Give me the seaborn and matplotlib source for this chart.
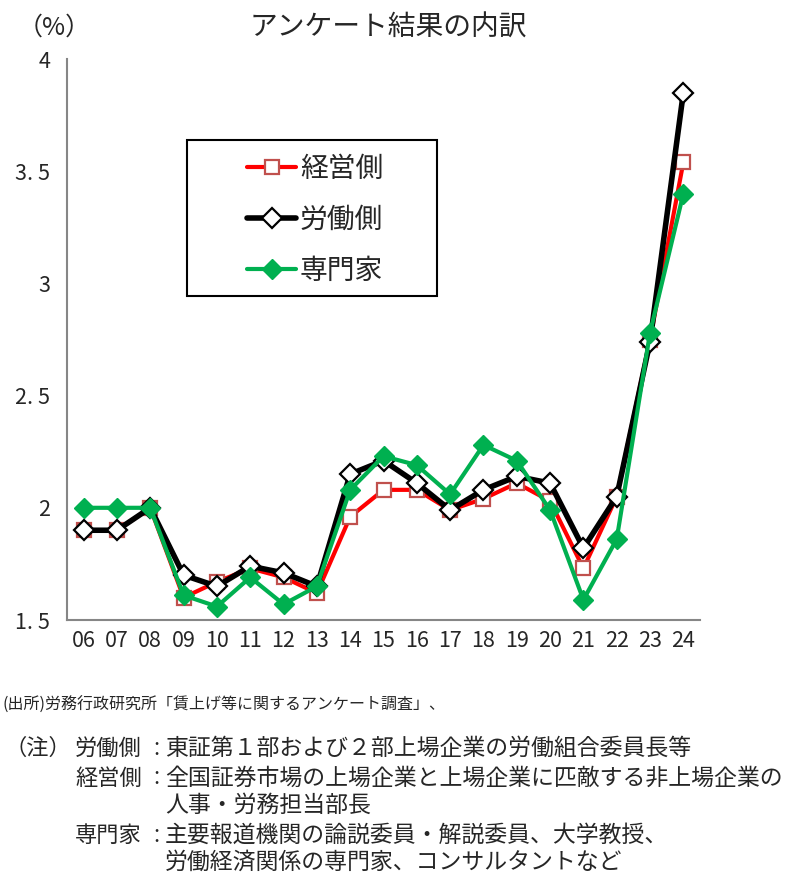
import numpy as np
import pandas as pd
import matplotlib
matplotlib.use("Agg")
import matplotlib.pyplot as plt
from matplotlib.patches import Rectangle
import seaborn as sns

years = ["06", "07", "08", "09", "10", "11", "12", "13", "14", "15",
         "16", "17", "18", "19", "20", "21", "22", "23", "24"]
management = [1.90, 1.90, 2.00, 1.60, 1.67, 1.73, 1.69, 1.62, 1.96, 2.08,
              2.08, 1.99, 2.04, 2.11, 2.03, 1.73, 2.05, 2.75, 3.54]
labor = [1.90, 1.90, 2.00, 1.70, 1.65, 1.74, 1.71, 1.65, 2.15, 2.21,
         2.11, 1.99, 2.08, 2.14, 2.11, 1.82, 2.05, 2.74, 3.85]
experts = [2.00, 2.00, 2.00, 1.61, 1.56, 1.69, 1.57, 1.65, 2.08, 2.23,
           2.19, 2.06, 2.28, 2.21, 1.99, 1.59, 1.86, 2.78, 3.40]
series_names = ["経営側", "労働側", "専門家"]
yticks = [1.5, 2, 2.5, 3, 3.5, 4]
ytick_labels = ["1. 5", "2", "2. 5", "3", "3. 5", "4"]

sns.set_style("white")
plt.rcParams['font.family'] = ['Noto Sans CJK JP', 'DejaVu Sans']

W, H = 799, 880
fig = plt.figure(figsize=(W / 100, H / 100), dpi=100)
ax = fig.add_axes([67 / W, 1 - 620 / H, (700 - 67) / W, (620 - 59) / H])

x = np.arange(len(years))
styles = [
    dict(color="#FF0000", lw=3, marker="s", markersize=10, markerfacecolor="white",
         markeredgecolor="#C0504D", markeredgewidth=1.6),
    dict(color="#000000", lw=4, marker="D", markersize=10.5, markerfacecolor="white",
         markeredgecolor="#000000", markeredgewidth=1.6),
    dict(color="#00B050", lw=3, marker="D", markersize=10.5, markerfacecolor="#00B050",
         markeredgecolor="#00B050", markeredgewidth=1),
]
for name, vals, st in zip(series_names, [management, labor, experts], styles):
    sns.lineplot(x=x, y=vals, ax=ax, label=name, **st)

ax.set_xlim(-0.5, len(years) - 0.5)
ax.set_ylim(1.5, 4)
ax.set_xticks(x)
ax.set_xticklabels(years, fontsize=15.5)
ax.set_xticks(np.arange(-0.5, len(years), 1), minor=True)
ax.tick_params(axis="x", which="major", length=0, pad=7)
ax.tick_params(axis="x", which="minor", length=7, color="#868686", width=1.2, direction="out")
ax.set_yticks(yticks)
ax.set_yticklabels(ytick_labels, fontsize=15.5)
ax.tick_params(axis="y", length=6, color="#868686", width=1.2, direction="out", pad=6)
for s in ["top", "right"]:
    ax.spines[s].set_visible(False)
for s in ["left", "bottom"]:
    ax.spines[s].set_color("#868686")
    ax.spines[s].set_linewidth(1.5)
ax.set_xlabel("")
ax.set_ylabel("")

# legend box drawn separately for wide side padding
bx0, bx1, by0, by1 = 187, 437, 140, 296
ax.add_patch(Rectangle(((bx0 - 67) / 633, (620 - by1) / 561),
                       (bx1 - bx0) / 633, (by1 - by0) / 561,
                       transform=ax.transAxes, fill=True, facecolor="white",
                       edgecolor="black", lw=1.5, zorder=4))
leg = ax.legend(loc="upper left", bbox_to_anchor=((225 - 67) / 633, (620 - 132) / 561),
                fontsize=20, frameon=False, handlelength=1.75,
                labelspacing=0.75, borderpad=0.3, handletextpad=0.15)
leg.set_zorder(5)

fig.text(18 / W, 1 - 28 / H, "（%）", fontsize=18, va="center", ha="left")
fig.text(388 / W, 1 - 28 / H, "アンケート結果の内訳", fontsize=20, va="center", ha="center")

fig.text(3 / W, 1 - 705 / H, "(出所)労務行政研究所「賃上げ等に関するアンケート調査」、",
         fontsize=11.5, va="center", ha="left")

notes = [
    ("労働側", "東証第１部および２部上場企業の労働組合委員長等", 748),
    ("経営側", "全国証券市場の上場企業と上場企業に匹敵する非上場企業の", 778),
    ("", "人事・労務担当部長", 805),
    ("専門家", "主要報道機関の論説委員・解説委員、大学教授、", 835),
    ("", "労働経済関係の専門家、コンサルタントなど", 862),
]
fig.text(5 / W, 1 - 748 / H, "（注）", fontsize=16, va="center", ha="left")
for label, body, ypx in notes:
    if label:
        fig.text(75 / W, 1 - ypx / H, label, fontsize=16, va="center", ha="left")
        fig.text(153 / W, 1 - ypx / H, ":", fontsize=16, va="center", ha="left")
    fig.text(165 / W, 1 - ypx / H, body, fontsize=16.5, va="center", ha="left")

fig.savefig("out.png", dpi=100)
